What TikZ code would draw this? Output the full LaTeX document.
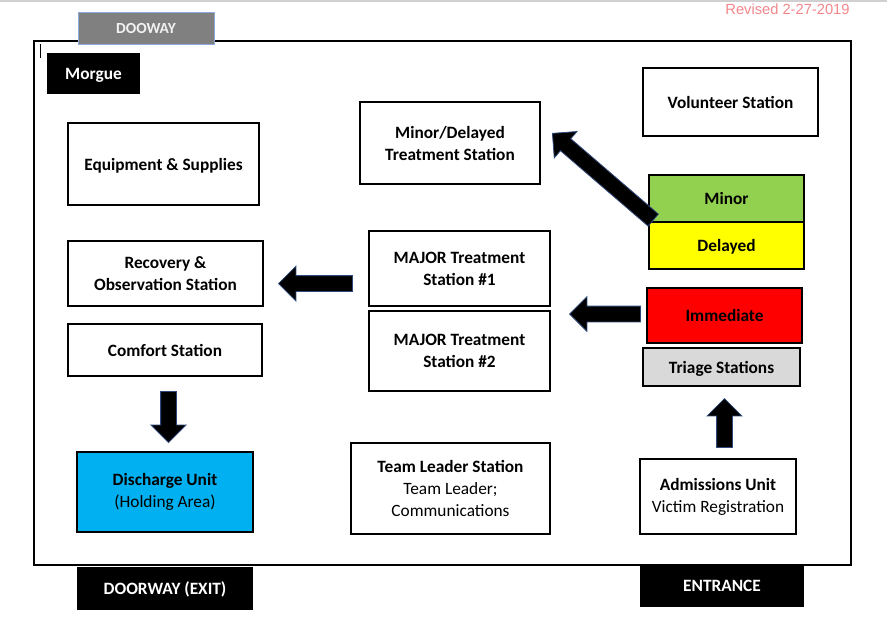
\documentclass[tikz,border=0pt]{standalone}
\usepackage{fontspec}
\setmainfont{Carlito}
\newfontfamily\revfont{Liberation Sans}
\usetikzlibrary{shapes.arrows}

\definecolor{minorgreen}{HTML}{92D050}
\definecolor{delayyellow}{HTML}{FFFF00}
\definecolor{immedred}{HTML}{FF0000}
\definecolor{triagegrey}{HTML}{D9D9D9}
\definecolor{dischargeblue}{HTML}{00B0F0}
\definecolor{revpink}{HTML}{F2868B}
\definecolor{arrowedge}{HTML}{2F4A7A}
\definecolor{doorgrey}{HTML}{808080}
\definecolor{dooredge}{HTML}{8EA9DB}
\definecolor{topline}{HTML}{D0D0D0}

\tikzset{
  station/.style={draw=black, line width=1.2pt, align=center, inner sep=0pt,
    font=\fontsize{17.3}{22}\selectfont},
  blackbox/.style={fill=black, text=white, inner sep=0pt,
    font=\fontsize{17.3}{22}\selectfont\bfseries},
  sized/.style 2 args={minimum width=#1pt, minimum height=#2pt},
  flowarrow/.style={single arrow, fill=black, draw=arrowedge, line width=0.8pt,
    inner xsep=0pt, inner ysep=7.5pt, single arrow head extend=9.5pt, anchor=tip},
}

\begin{document}
\begin{tikzpicture}[x=1pt,y=-1pt]
            \useasboundingbox (0,0) rectangle (887,619);

            % Top rule and revision date
            \draw[topline, line width=1.5pt] (0,1) -- (887,1);
            \node[revpink, font=\revfont\fontsize{14.7}{17}\selectfont] (revised) at (787.5,9) {Revised 2-27-2019};

            % Room outline
            \draw[line width=1.3pt] (34,41) rectangle (851,565);
            \draw[line width=0.8pt] (40,44) -- (40,58);

            % Doors
            \node[fill=doorgrey, draw=dooredge, line width=0.8pt, text={black!5}, inner sep=0pt,
              font=\fontsize{15.4}{18}\selectfont\bfseries, sized={136}{32}] (dooway) at (146,28) {DOOWAY};
            \node[blackbox, text depth=0pt, sized={176}{43}] (exitdoor) at (165,588.5) {DOORWAY (EXIT)};
            \node[blackbox, sized={164}{43}] (entrance) at (722,585.5) {ENTRANCE};

            % Left column
            \node[blackbox, text depth=0pt, sized={93}{41}] (morgue) at (93.5,73.5) {Morgue};
            \node[station, text depth=0pt, sized={191}{82}] (equip) at (163.5,164) {\textbf{Equipment \& Supplies}};
            \node[station, sized={195}{65}] (recovery) at (165.5,273.5) {\textbf{Recovery \&}\\\textbf{Observation Station}};
            \node[station, sized={194}{52}] (comfort) at (165,350) {\textbf{Comfort Station}};
            \node[station, fill=dischargeblue, sized={176}{80}] (discharge) at (165,492) {\textbf{Discharge Unit}\\(Holding Area)};

            % Middle column
            \node[station, sized={180}{82}] (minordel) at (450,143) {\textbf{Minor/Delayed}\\\textbf{Treatment Station}};
            \node[station, sized={181}{75}] (major1) at (459.5,268.5) {\textbf{MAJOR Treatment}\\\textbf{Station \#1}};
            \node[station, sized={181}{80}] (major2) at (459.5,351) {\textbf{MAJOR Treatment}\\\textbf{Station \#2}};
            \node[station, sized={199}{91}] (teamlead) at (450.5,488.5) {\textbf{Team Leader Station}\\Team Leader;\\Communications};

            % Right column
            \node[station, sized={175}{68}] (volunteer) at (730.5,102) {\textbf{Volunteer Station}};
            \node[station, fill=minorgreen, sized={155}{47}] (minor) at (726.5,198.5) {\textbf{Minor}};
            \node[station, text depth=0pt, fill=delayyellow, sized={155}{47}] (delayed) at (726.5,245.5) {\textbf{Delayed}};
            \node[station, fill=immedred, sized={155}{55}] (immediate) at (724.5,315.5) {\textbf{Immediate}};
            \node[station, text depth=0pt, fill=triagegrey, sized={157}{38}] (triage) at (721.5,367) {\textbf{Triage Stations}};
            \node[station, sized={156}{75}] (admissions) at (718,496.5) {\textbf{Admissions Unit}\\Victim Registration};

            % Flow arrows (placed by their tips)
            \node[flowarrow, minimum height=133pt, rotate=139.3] (toMinordel) at (552,133) {};
            \node[flowarrow, minimum height=74pt, rotate=180] (toRecovery) at (278,283.5) {};
            \node[flowarrow, minimum height=71pt, rotate=180] (toMajor) at (569,314) {};
            \node[flowarrow, minimum height=51pt, rotate=-90] (toDischarge) at (168.5,443) {};
            \node[flowarrow, minimum height=49pt, rotate=90] (toTriage) at (724.5,398) {};
        \end{tikzpicture}
\end{document}
